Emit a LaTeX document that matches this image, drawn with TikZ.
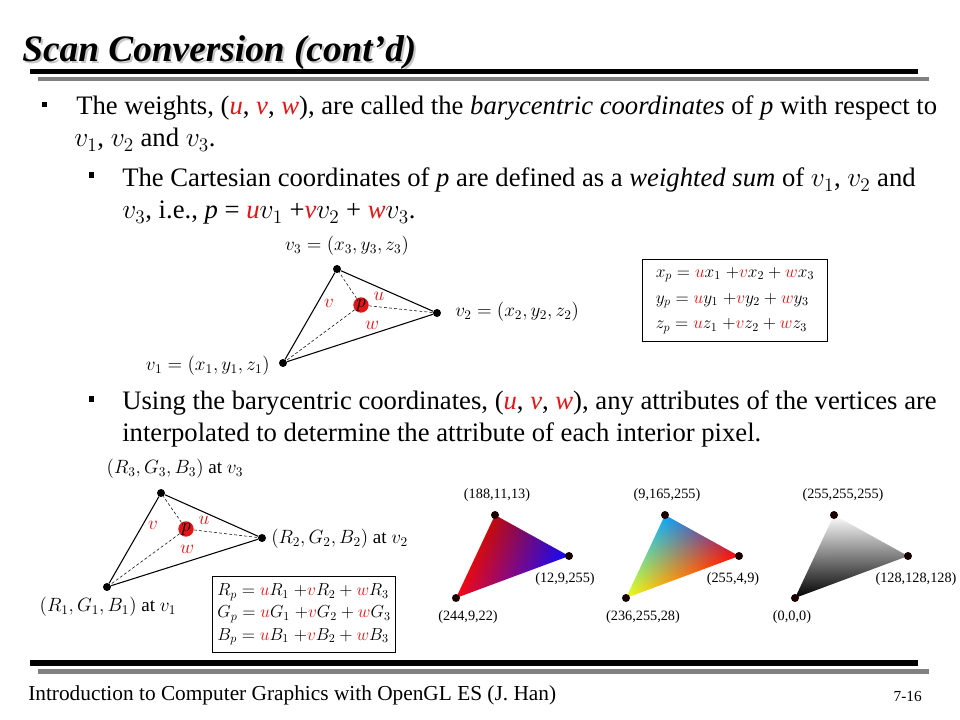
\documentclass[tikz,border=0pt]{standalone}
\usepackage{fontspec}
\setmainfont{Liberation Serif}
\usepackage{xcolor}
\usepackage{tikz}

\definecolor{wred}{RGB}{226,22,22}
\definecolor{rulegray}{RGB}{128,128,128}
\newcommand{\redit}[1]{\textcolor{wred}{\textit{#1}}}
\newcommand{\redm}[1]{{\color{wred}#1}}
\newcommand{\mv}[1]{{\fontsize{21.5}{24}\selectfont$#1$}}
\newcommand{\bodyfont}{\fontsize{20}{24}\selectfont}
\newcommand{\eqfont}{\fontsize{14.3}{18}\selectfont}

% interpolated colours: stack x y -> weights of right and top vertex -> r g b
\pgfdeclarefunctionalshading{shadeA}{\pgfpoint{-2bp}{-2bp}}{\pgfpoint{88bp}{65bp}}{}{
  2 copy -0.0067175 mul exch 0.0142962 mul add
  3 1 roll 0.0194635 mul exch -0.0072342 mul add
  2 copy -0.2196 mul exch -0.9098 mul add 0.9569 add 3 1 roll
  2 copy 0.0078 mul exch 0.0 mul add 0.0353 add 3 1 roll
  -0.0353 mul exch 0.9137 mul add 0.0863 add
}
\pgfdeclarefunctionalshading{shadeB}{\pgfpoint{-2bp}{-2bp}}{\pgfpoint{88bp}{65bp}}{}{
  2 copy -0.0067175 mul exch 0.0142962 mul add
  3 1 roll 0.0194635 mul exch -0.0072342 mul add
  2 copy -0.8902 mul exch 0.0745 mul add 0.9255 add 3 1 roll
  2 copy -0.3529 mul exch -0.9843 mul add 1.0 add 3 1 roll
  0.8902 mul exch -0.0745 mul add 0.1098 add
}
\pgfdeclarefunctionalshading{shadeC}{\pgfpoint{-2bp}{-2bp}}{\pgfpoint{88bp}{65bp}}{}{
  2 copy -0.0067175 mul exch 0.0142962 mul add
  3 1 roll 0.0194635 mul exch -0.0072342 mul add
  2 copy 1.0 mul exch 0.502 mul add 3 1 roll
  2 copy 1.0 mul exch 0.502 mul add 3 1 roll
  1.0 mul exch 0.502 mul add
}

\begin{document}
\begin{tikzpicture}[x=0.75pt, y=-0.75pt,
  bodytext/.style={anchor=base west, inner sep=0pt, font=\bodyfont},
  bulletbox/.style={rectangle, fill=black, inner sep=0pt, minimum size=4.3pt},
  vdot/.style={circle, fill=black, inner sep=0pt, minimum size=6pt},
  pdot/.style={circle, fill=wred, inner sep=0pt, minimum size=11.5pt, font=\eqfont},
  weight/.style={text=wred, inner sep=0pt, font=\eqfont},
  vlabel/.style={inner sep=0pt, font=\eqfont},
  eqbox/.style={draw, line width=0.8pt, align=left, inner sep=0pt, anchor=north west, scale=0.905, transform shape},
  rgblabel/.style={inner sep=0pt, font=\fontsize{10.7}{12}\selectfont},
  shadebox/.style={anchor=south west, inner sep=0pt, outer sep=0pt, xshift=-2bp, yshift=-2bp}]
\useasboundingbox[fill=white] (0,0) rectangle (960,720);

% title and rules
\node (titleshadow) [anchor=base west, inner sep=0pt, text=gray!45, font=\fontsize{28}{32}\selectfont\bfseries\itshape] at (24,64) {Scan Conversion (cont'd)};
\node (title) [anchor=base west, inner sep=0pt, font=\fontsize{28}{32}\selectfont\bfseries\itshape] at (22,62) {Scan Conversion (cont'd)};
\fill (30,69) rectangle (918,74);
\fill[rulegray] (38,77) rectangle (929,81.5);

% bullets
\node (b1) [bulletbox] at (44.5,104.5) {};
\node (b2) [bulletbox] at (91.5,175) {};
\node (b3) [bulletbox] at (91.5,399) {};
\node (line1) [bodytext] at (76,115) {The weights, (\redit{u}, \redit{v}, \redit{w}), are called the \textit{barycentric coordinates} of \textit{p} with respect to};
\node (line2) [bodytext] at (74,147) {\mv{v_1}, \mv{v_2} and \mv{v_3}.};
\node (line3) [bodytext] at (122,187) {The Cartesian coordinates of \textit{p} are defined as a \textit{weighted sum} of \mv{v_1}, \mv{v_2} and};
\node (line4) [bodytext] at (122,219) {\mv{v_3}, i.e., \textit{p} = \redit{u}\mv{v_1} +\redit{v}\mv{v_2} + \redit{w}\mv{v_3}.};
\node (line5) [bodytext] at (122,409) {Using the barycentric coordinates, (\redit{u}, \redit{v}, \redit{w}), any attributes of the vertices are};
\node (line6) [bodytext] at (122,441) {interpolated to determine the attribute of each interior pixel.};

% barycentric triangle
\node (v1) [vdot] at (283,363) {};
\node (v2) [vdot] at (437,313) {};
\node (v3) [vdot] at (337,269) {};
\node (p) [pdot] at (361,305) {};
\draw[line width=0.8pt] (v1) -- (v2) -- (v3) -- (v1);
\draw[dashed, dash pattern=on 2.2pt off 1.6pt] (p) -- (v1);
\draw[dashed, dash pattern=on 2.2pt off 1.6pt] (p) -- (v2);
\draw[dashed, dash pattern=on 2.2pt off 1.6pt] (p) -- (v3);
\node (plab) [vlabel] at (p) {$p$};
\node (wv) [weight] at (329,303) {$v$};
\node (wu) [weight] at (379,296) {$u$};
\node (ww) [weight] at (372,325) {$w$};
\node (v3lab) [vlabel] at (347,246) {$v_3 = (x_3, y_3, z_3)$};
\node (v2lab) [vlabel, anchor=west] at (455,312) {$v_2 = (x_2, y_2, z_2)$};
\node (v1lab) [vlabel, anchor=east] at (270,366) {$v_1 = (x_1, y_1, z_1)$};

\node (xyzbox) [eqbox, minimum width=153.3pt, minimum height=68pt, font=\fontsize{14.4}{21.5}\selectfont] at (642,259) {$x_p = \redm{u}x_1\;{+}\redm{v}x_2 + \redm{w}x_3$\\ $y_p = \redm{u}y_1\;{+}\redm{v}y_2 + \redm{w}y_3$\\ $z_p = \redm{u}z_1\;{+}\redm{v}z_2 + \redm{w}z_3$};

% colour triangle
\node (c1) [vdot] at (107,587) {};
\node (c2) [vdot] at (262,538) {};
\node (c3) [vdot] at (161,493) {};
\node (q) [pdot] at (186,529) {};
\draw[line width=0.8pt] (c1) -- (c2) -- (c3) -- (c1);
\draw[dashed, dash pattern=on 2.2pt off 1.6pt] (q) -- (c1);
\draw[dashed, dash pattern=on 2.2pt off 1.6pt] (q) -- (c2);
\draw[dashed, dash pattern=on 2.2pt off 1.6pt] (q) -- (c3);
\node (qlab) [vlabel] at (q) {$p$};
\node (qv) [weight] at (153,525) {$v$};
\node (qu) [weight] at (204,520) {$u$};
\node (qw) [weight] at (187,549) {$w$};
\node (c3lab) [vlabel] at (175,469) {$(R_3, G_3, B_3)$ at $v_3$};
\node (c2lab) [vlabel, anchor=west] at (271,539) {$(R_2, G_2, B_2)$ at $v_2$};
\node (c1lab) [vlabel] at (108,607) {$(R_1, G_1, B_1)$ at $v_1$};

\node (rgbbox) [eqbox, minimum width=151.7pt, minimum height=63pt, font=\fontsize{14.4}{18.4}\selectfont] at (212,576) {$R_p = \redm{u}R_1\;{+}\redm{v}R_2 + \redm{w}R_3$\\ $G_p = \redm{u}G_1\;{+}\redm{v}G_2 + \redm{w}G_3$\\ $B_p = \redm{u}B_1\;{+}\redm{v}B_2 + \redm{w}B_3$};

% shaded examples
\coordinate (tA1) at (456,598);
\coordinate (tA2) at (569,556);
\coordinate (tA3) at (495,515);
\coordinate (tB1) at (626,598);
\coordinate (tB2) at (739,556);
\coordinate (tB3) at (665,515);
\coordinate (tC1) at (795,598);
\coordinate (tC2) at (908,556);
\coordinate (tC3) at (834,515);
\begin{scope}
\clip (tA1) -- (tA2) -- (tA3) -- cycle;
\node (fillA) [shadebox] at (tA1) {\pgfuseshading{shadeA}};
\end{scope}
\begin{scope}
\clip (tB1) -- (tB2) -- (tB3) -- cycle;
\node (fillB) [shadebox] at (tB1) {\pgfuseshading{shadeB}};
\end{scope}
\begin{scope}
\clip (tC1) -- (tC2) -- (tC3) -- cycle;
\node (fillC) [shadebox] at (tC1) {\pgfuseshading{shadeC}};
\end{scope}
\foreach \t in {tA1,tA2,tA3,tB1,tB2,tB3,tC1,tC2,tC3}
  \fill[black!90!red] (\t) circle (3pt);
\node (labA3) [rgblabel] at (497,495) {(188,11,13)};
\node (labA2) [rgblabel] at (565,579) {(12,9,255)};
\node (labA1) [rgblabel] at (468,617) {(244,9,22)};
\node (labB3) [rgblabel] at (667,495) {(9,165,255)};
\node (labB2) [rgblabel] at (733,579) {(255,4,9)};
\node (labB1) [rgblabel] at (643,617) {(236,255,28)};
\node (labC3) [rgblabel] at (843,495) {(255,255,255)};
\node (labC2) [rgblabel] at (916,579) {(128,128,128)};
\node (labC1) [rgblabel] at (792,617) {(0,0,0)};

% footer
\fill (30,660) rectangle (918,665.5);
\fill[rulegray] (38,669) rectangle (929,674);
\node (footer) [anchor=base west, inner sep=0pt, font=\fontsize{16}{19}\selectfont] at (28,700) {Introduction to Computer Graphics with OpenGL ES (J. Han)};
\node (pageno) [anchor=base east, inner sep=0pt, font=\fontsize{11.5}{13}\selectfont] at (922,701) {7-16};
\end{tikzpicture}
\end{document}
